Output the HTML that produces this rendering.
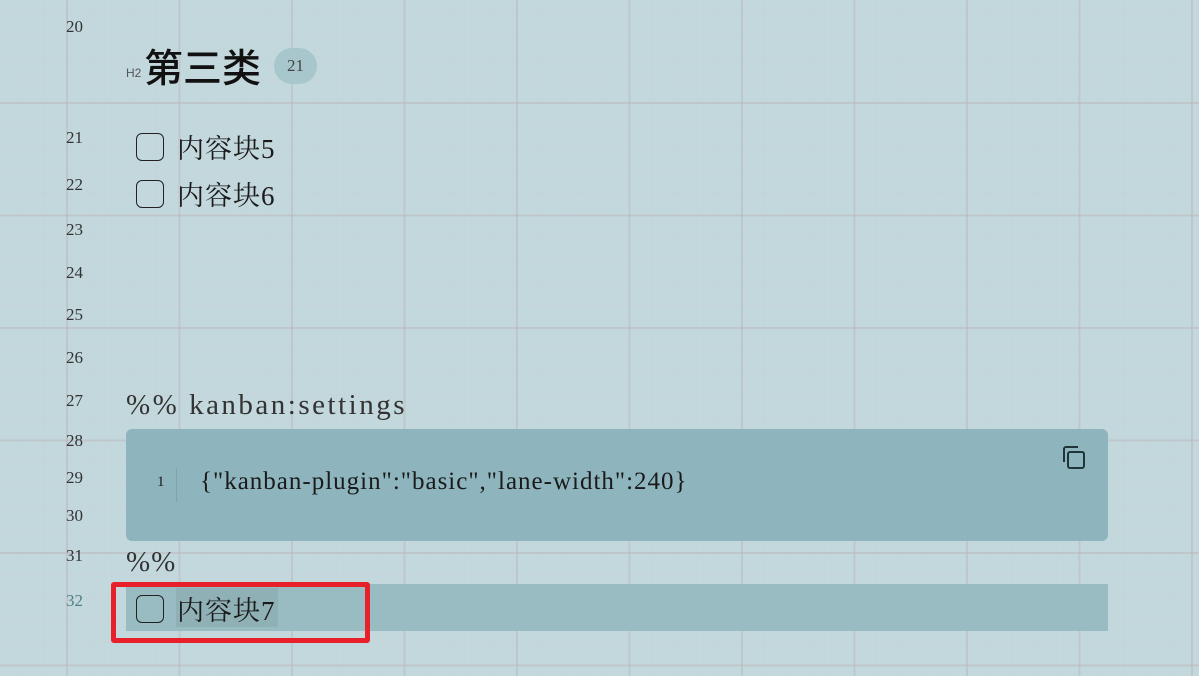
<!DOCTYPE html>
<html><head><meta charset="utf-8"><style>
html,body{margin:0;padding:0}
body{width:1199px;height:676px;overflow:hidden;position:relative;background-color:#c3d8dc;
background-image:
linear-gradient(to right,rgba(185,180,185,.45) 2px,transparent 2px),
linear-gradient(to bottom,rgba(185,180,185,.45) 2px,transparent 2px),
linear-gradient(to right,rgba(200,200,205,.25) 1px,transparent 1px),
linear-gradient(to bottom,rgba(200,200,205,.25) 1px,transparent 1px);
background-size:112.5px 112.5px,112.5px 112.5px,22.5px 22.5px,22.5px 22.5px;
background-position:66px 0,0 102px,66px 0,0 102px;
font-family:"Liberation Serif","Noto Serif CJK SC",serif;color:#1a1a1a}
.n{position:absolute;left:66px;font-size:17px;color:#333}
.t{position:absolute;font-size:27px;letter-spacing:1px}
.cb{position:absolute;left:136px;width:28px;height:28px;border:1.5px solid #222;border-radius:6px;box-sizing:border-box}
</style></head><body>
<div class="n" style="top:17px">20</div>
<div class="n" style="top:128px">21</div>
<div class="n" style="top:175px">22</div>
<div class="n" style="top:220px">23</div>
<div class="n" style="top:263px">24</div>
<div class="n" style="top:305px">25</div>
<div class="n" style="top:348px">26</div>
<div class="n" style="top:391px">27</div>
<div class="n" style="top:431px">28</div>
<div class="n" style="top:468px">29</div>
<div class="n" style="top:506px">30</div>
<div class="n" style="top:546px">31</div>
<div class="n" style="top:591px;color:#4f8088">32</div>
<div style="position:absolute;left:126px;top:66px;font-size:12px;color:#555;font-family:'Liberation Sans',sans-serif">H2</div>
<div style="position:absolute;left:144px;top:38px;font-size:39px;font-weight:500;font-family:'Liberation Sans','Noto Sans CJK SC',sans-serif;color:#111">第三类</div>
<div style="position:absolute;left:274px;top:48px;width:43px;height:36px;border-radius:18px;background:#a7c7cc;font-size:17px;color:#444;text-align:center;line-height:36px">21</div>
<div class="cb" style="top:133px"></div><div class="t" style="left:177px;top:127px">内容块5</div>
<div class="cb" style="top:180px"></div><div class="t" style="left:177px;top:174px">内容块6</div>
<div class="t" style="left:126px;top:389px;color:#333;font-size:29px;letter-spacing:2.5px">%% kanban:settings</div>
<div style="position:absolute;left:126px;top:429px;width:982px;height:112px;background:#8eb5bd;border-radius:6px"></div>
<div style="position:absolute;left:157px;top:474px;font-size:15px">1</div>
<div style="position:absolute;left:176px;top:468px;width:1px;height:34px;background:#7fa3ab"></div>
<div style="position:absolute;left:200px;top:468px;font-size:25px;letter-spacing:1px">{"kanban-plugin":"basic","lane-width":240}</div>
<svg style="position:absolute;left:1060px;top:444px" width="28" height="28" viewBox="0 0 28 28" fill="none" stroke="#1f3338" stroke-width="2"><rect x="8" y="8" width="16" height="16" rx="2"/><path d="M4 18V5a2 2 0 0 1 2-2h12"/></svg>
<div class="t" style="left:126px;top:546px;color:#333;font-size:29px">%%</div>
<div style="position:absolute;left:126px;top:584px;width:982px;height:47px;background:#98bcc1"></div>
<div style="position:absolute;left:176px;top:588px;width:102px;height:39px;background:#8fb1b6"></div>
<div class="cb" style="top:595px"></div><div class="t" style="left:177px;top:589px">内容块7</div>
<div style="position:absolute;left:111px;top:582px;width:259px;height:61px;border:5px solid #e8202a;border-radius:3px;box-sizing:border-box"></div>
</body></html>
